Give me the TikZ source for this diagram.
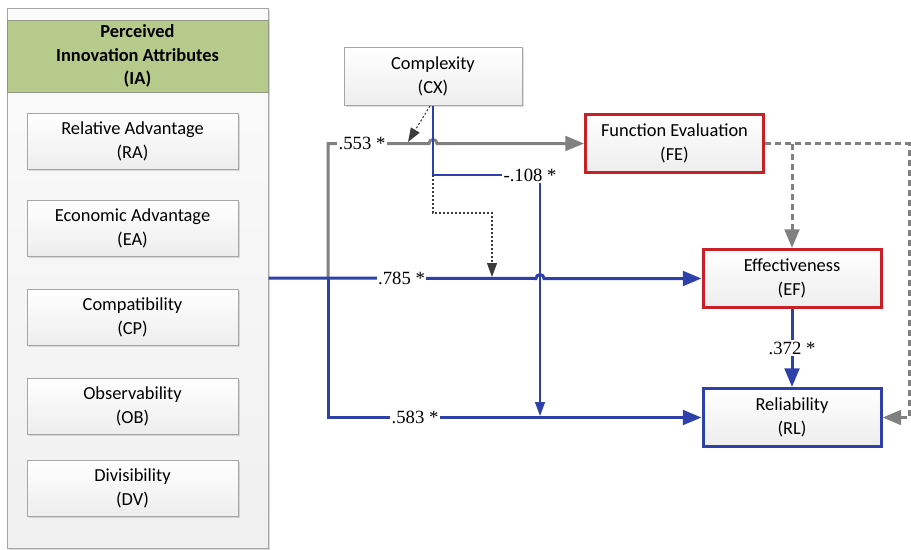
\documentclass[tikz,border=0pt]{standalone}
\usepackage{fontspec}
\setmainfont{Carlito}
\newfontfamily\labfont{Liberation Serif}
\usetikzlibrary{arrows.meta,shadows,calc}
\definecolor{cblue}{RGB}{46,64,170}
\definecolor{cred}{RGB}{200,32,38}
\definecolor{cgray}{RGB}{128,128,128}
\definecolor{cgreen}{RGB}{182,202,140}
\definecolor{cdot}{RGB}{60,60,60}
\tikzset{
  boxtxt/.style={font=\fontsize{13.8}{18}\selectfont, align=center},
  attrbox/.style={boxtxt, draw=gray!70, line width=0.75pt, top color=white, bottom color=gray!14,
    minimum width=158.25pt, minimum height=42pt, inner sep=0pt,
    drop shadow={shadow xshift=1.2pt, shadow yshift=-1.2pt, opacity=0.25}},
  constbox/.style={attrbox, minimum width=133.5pt, minimum height=43.5pt},
  redbox/.style={constbox, draw=cred, line width=2.25pt},
  bluebox/.style={constbox, draw=cblue, line width=2.25pt},
  coef/.style={font=\labfont\fontsize{14}{16}\selectfont, fill=white, inner sep=1pt},
  bthick/.style={draw=cblue, line width=2.25pt, -{Triangle[length=14pt,width=11pt]}},
  bthin/.style={draw=cblue, line width=1.1pt},
  gthick/.style={draw=cgray, line width=2.25pt},
  gdash/.style={draw=cgray, line width=2.25pt, dash pattern=on 4.5pt off 3pt},
  dotln/.style={draw=cdot, line width=0.8pt, dash pattern=on 1.5pt off 1.5pt},
  bigtip/.style={-{Triangle[length=14pt,width=11pt]}},
  smalltip/.style={-{Triangle[length=10.5pt,width=7.5pt]}},
}
\begin{document}
\begin{tikzpicture}[x=0.75pt,y=-0.75pt]
\useasboundingbox (0,0) rectangle (911,550);
% panel
\node[draw=gray!70, line width=0.75pt, top color=gray!3, bottom color=gray!12,
  minimum width=195.75pt, minimum height=405pt, inner sep=0pt,
  drop shadow={shadow xshift=1.5pt, shadow yshift=-1.5pt, opacity=0.3}] (ia) at (137.5,278) {};
\node[boxtxt, font=\bfseries\fontsize{13.8}{17.6}\selectfont, fill=cgreen, draw=gray!70!cgreen, line width=0.75pt,
  minimum width=195.75pt, minimum height=54pt, inner sep=0pt] (hdr) at (137.5,56) {Perceived\\Innovation Attributes\\(IA)};
\node[attrbox] (ra) at (132.5,141) {Relative Advantage\\(RA)};
\node[attrbox] (ea) at (132.5,228) {Economic Advantage\\(EA)};
\node[attrbox] (cp) at (132.5,317) {Compatibility\\(CP)};
\node[attrbox] (ob) at (132.5,406) {Observability\\(OB)};
\node[attrbox] (dv) at (132.5,488) {Divisibility\\(DV)};
% constructs
\node[constbox] (cx) at (433,76.5) {Complexity\\(CX)};
\node[redbox] (fe) at (674.5,143.5) {Function Evaluation\\(FE)};
\node[redbox] (ef) at (792,278.5) {Effectiveness\\(EF)};
\node[bluebox] (rl) at (792,417.5) {Reliability\\(RL)};
% coordinates
\coordinate (br) at (328,278.5);
\coordinate (gc) at (328,143.5);
\coordinate (cxa) at (433,175);
\coordinate (cxb) at (540,175);
\coordinate (d1s) at (430,106);
\coordinate (d1e) at (408,142);
\coordinate (d2a) at (433,213);
\coordinate (d2b) at (492,213);
\coordinate (d2e) at (492,277);
\coordinate (rtop) at (909,143.5);
\coordinate (rbot) at (909,417.5);
\coordinate (fej) at (792,143.5);
% gray .553 path
\draw[gthick, bigtip] (br) -- (gc) -- (429,143.5) arc[start angle=180, end angle=0, radius=3pt] -- (fe.west);
% blue .785 path
\draw[bthick] (ia.east) -- (536,278.5) arc[start angle=180, end angle=0, radius=3pt] -- (ef.west);
% blue .583 path
\draw[bthick] (br) |- (rl.west);
% CX thin blue
\draw[bthin] (cx.south) -- (cxa) -- (cxb);
\draw[bthin, smalltip] (cxb) -- (540,416);
% dotted moderators
\draw[dotln, smalltip] (d1s) -- (d1e);
\draw[dotln, smalltip] (cxa) -- (d2a) -- (d2b) -- (d2e);
% dashed FE paths
\draw[gdash, bigtip] (fe.east) -- (rtop) -- (rbot) -- (rl.east);
\draw[gdash, bigtip] (fej) -- (ef.north);
% EF -> RL
\draw[bthick] (ef.south) -- (rl.north);
% coefficient labels
\node[coef] (l553) at (362,143.5) {.553 *};
\node[coef] (l785) at (401.5,278.5) {.785 *};
\node[coef] (l583) at (415,417.5) {.583 *};
\node[coef] (l108) at (530,175) {-.108 *};
\node[coef] (l372) at (792,348) {.372 *};
\end{tikzpicture}
\end{document}
